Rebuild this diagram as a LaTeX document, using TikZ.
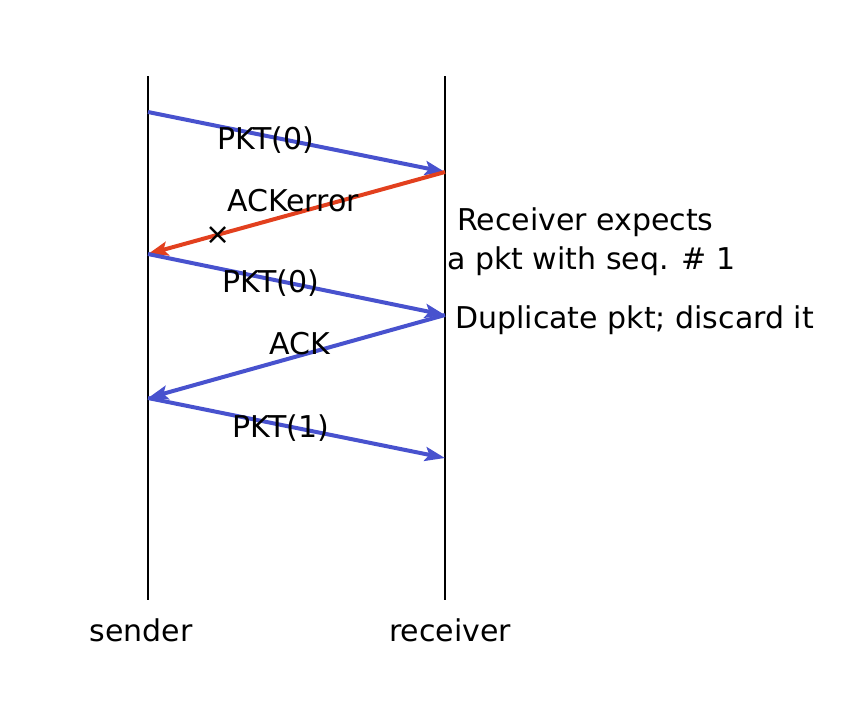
\documentclass[tikz,border=0pt]{standalone}
\usepackage{fontspec}
\setmainfont{DejaVu Sans}
\usetikzlibrary{arrows.meta}
\definecolor{pktblue}{RGB}{72,82,206}
\definecolor{ackred}{RGB}{226,64,30}
\tikzset{
	msg/.style={pktblue, line width=4pt, -{Stealth[length=20pt,width=14pt,inset=4pt]}},
	lbl/.style={font=\fontsize{30}{34}\selectfont, inner sep=0pt}
}
\begin{document}
\begin{tikzpicture}[x=1pt,y=-1pt]
		\useasboundingbox (0,0) rectangle (860,718);
		
		\coordinate (s0) at (148,112);
		\coordinate (r0) at (445,172);
		\coordinate (s1) at (148,254);
		\coordinate (r1) at (445,315);
		\coordinate (s2) at (148,398);
		\coordinate (r2) at (445,458);
		
		\draw[line width=2.5pt] (148,76) coordinate (stop) -- (148,600) coordinate (sbot);
		\draw[line width=2.5pt] (445,76) coordinate (rtop) -- (445,600) coordinate (rbot);
		
		\draw[msg] (s0) -- (r0);
		\draw[msg, ackred] (r0) -- (s1);
		\draw[msg] (s1) -- (r1);
		\draw[msg] (r1) -- (s2);
		\draw[msg] (s2) -- (r2);
		
		\node[lbl] (pkt0) at (266,140) {PKT(0)};
		\node[lbl] (ackerr) at (293,201) {ACKerror};
		\node[lbl] (cross) at (218,236) {×};
		\node[lbl] (pkt0b) at (271,283) {PKT(0)};
		\node[lbl] (ack) at (300,344) {ACK};
		\node[lbl] (pkt1) at (281,428) {PKT(1)};
		
		\node[lbl, anchor=west] (expect) at (457,222) {Receiver expects};
		\node[lbl, anchor=west] (seq) at (447,261) {a pkt with seq. \# 1};
		\node[lbl, anchor=west] (dup) at (455,320) {Duplicate pkt; discard it};
		
		\node[lbl] (sender) at (141,630) {sender};
		\node[lbl] (receiver) at (450,630) {receiver};
		
	\end{tikzpicture}
\end{document}
